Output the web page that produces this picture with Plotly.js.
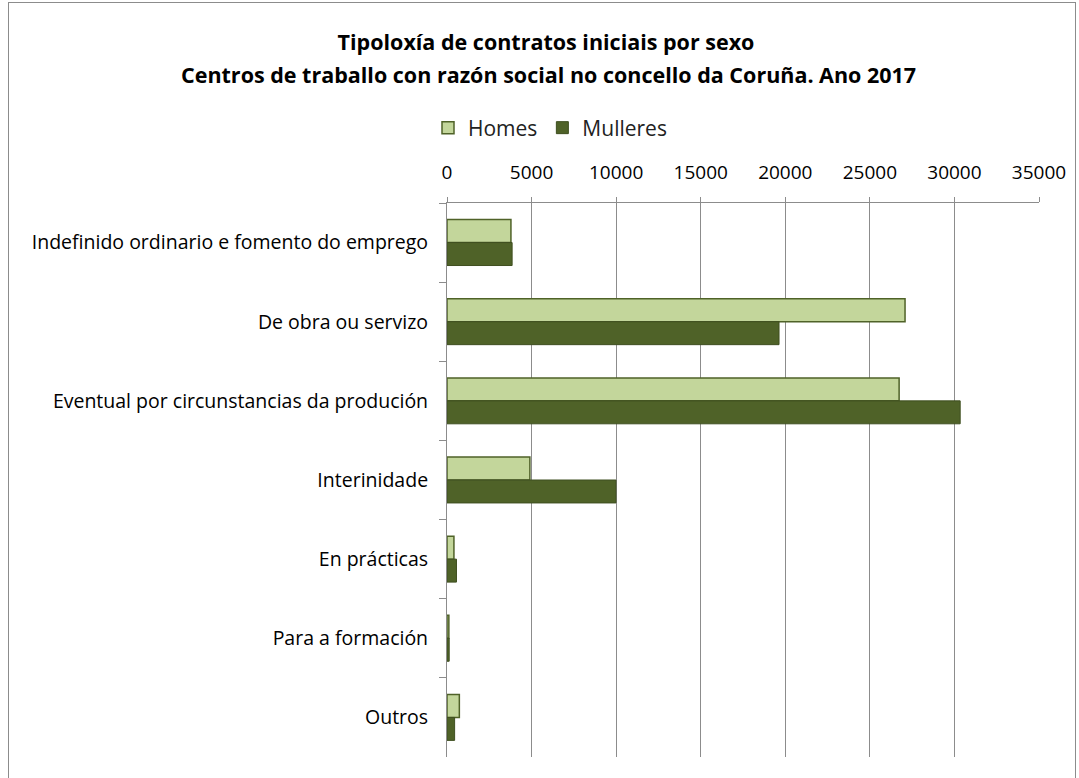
<!DOCTYPE html>
<html>
<head>
<meta charset="utf-8">
<script src="https://cdn.plot.ly/plotly-3.0.1.min.js"></script>
<style>
html,body{margin:0;padding:0;background:#fff;}
#wrap{position:relative;width:1079px;height:778px;}
#chart{width:1079px;height:778px;}
#frame{position:absolute;left:8px;top:2px;width:1066px;height:790px;border:1px solid #8c8c8c;pointer-events:none;}
</style>
</head>
<body>
<div id="wrap"><div id="chart"></div><div id="frame"></div></div>
<script>
const categories = [
  "Indefinido ordinario e fomento do emprego",
  "De obra ou servizo",
  "Eventual por circunstancias da produción",
  "Interinidade",
  "En prácticas",
  "Para a formación",
  "Outros"
];
const homes = [3780, 27080, 26730, 4900, 410, 110, 730];
const mulleres = [3850, 19630, 30340, 9990, 560, 130, 450];
const xTicks = [0, 5000, 10000, 15000, 20000, 25000, 30000, 35000];

const fontFam = "'Open Sans', 'Noto Sans', 'DejaVu Sans', sans-serif";

const traces = [
  {
    type: "bar", orientation: "h", name: "Homes",
    y: categories, x: homes,
    marker: {color: "#c3d69b", line: {color: "#4f6228", width: 1.5}},
    hoverinfo: "x+y"
  },
  {
    type: "bar", orientation: "h", name: "Mulleres",
    y: categories, x: mulleres,
    marker: {color: "#4f6228", line: {color: "#3f4f20", width: 1}},
    hoverinfo: "x+y"
  }
];

const layout = {
  width: 1079, height: 778,
  paper_bgcolor: "#ffffff", plot_bgcolor: "#ffffff",
  margin: {l: 447, r: 40, t: 203, b: 21},
  font: {family: fontFam, color: "#000000", size: 19},
  title: {
    text: "<b>Tipoloxía de contratos iniciais por sexo</b>",
    x: 546/1079, xref: "container", xanchor: "center",
    y: 1 - 42/778, yref: "container", yanchor: "middle",
    font: {family: fontFam, size: 21.5, color: "#000"}
  },
  annotations: [{
    text: "<b>Centros de traballo con razón social no concello da Coruña. Ano 2017</b>",
    xref: "paper", yref: "paper", showarrow: false,
    x: (548 - 447) / 592, xanchor: "center",
    y: 1 + (203 - 74) / 554, yanchor: "middle",
    font: {family: fontFam, size: 21.5, color: "#000"}
  }],
  barmode: "group",
  bargap: 0.42,
  bargroupgap: 0,
  showlegend: true,
  legend: {
    orientation: "h", xref: "container", yref: "container",
    x: 550/1079, xanchor: "center", y: 1 - 128/778, yanchor: "middle",
    font: {family: fontFam, size: 21, color: "#222"},
    itemwidth: 30, traceorder: "normal"
  },
  xaxis: {
    side: "top", range: [0, 35000], tickvals: xTicks,
    ticktext: xTicks.map(String),
    showgrid: true, gridcolor: "#8c8c8c", gridwidth: 1,
    showline: true, linecolor: "#8c8c8c", linewidth: 1,
    ticks: "outside", ticklen: 5, tickcolor: "#8c8c8c",
    zeroline: false, fixedrange: true,
    tickfont: {family: fontFam, size: 19, color: "#000"},
    ticklabelstandoff: 10
  },
  yaxis: {
    autorange: "reversed", type: "category",
    showline: true, linecolor: "#8c8c8c", linewidth: 1,
    ticks: "outside", tickson: "boundaries", ticklen: 7, tickcolor: "#8c8c8c",
    showgrid: false, zeroline: false, fixedrange: true,
    tickfont: {family: fontFam, size: 19.5, color: "#000"},
    ticklabelstandoff: 14
  }
};

Plotly.newPlot("chart", traces, layout, {displayModeBar: false, staticPlot: true});
</script>
</body>
</html>
